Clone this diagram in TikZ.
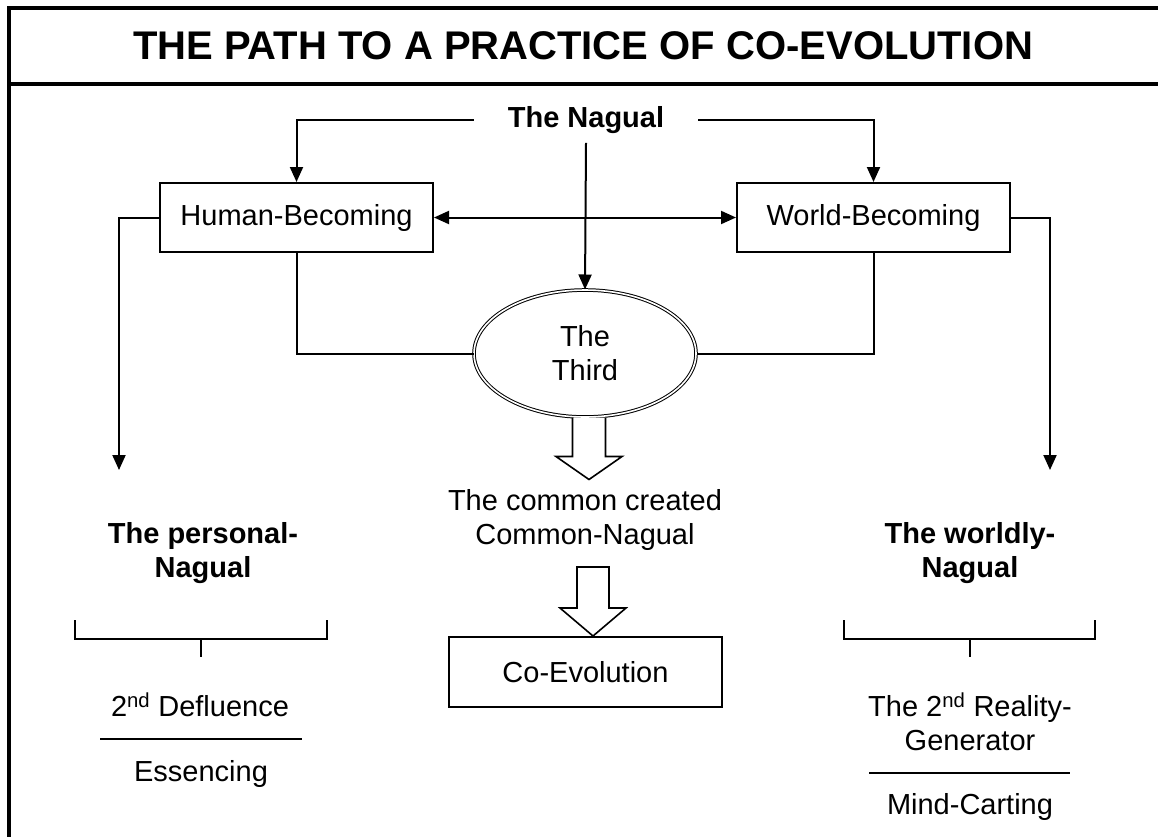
\documentclass[tikz,border=0pt]{standalone}
\usepackage{fontspec}
\setmainfont{Liberation Sans}
\usetikzlibrary{arrows.meta,shapes.geometric,calc}

\begin{document}
\begin{tikzpicture}[x=1pt,y=-1pt,>={Triangle[length=15pt,width=13pt]}]
	\tikzset{every node/.style={font=\fontsize{29}{34}\selectfont,align=center,inner sep=0pt}}
	\tikzset{boxnode/.style={draw,line width=2pt,minimum width=273pt,minimum height=69pt}}
	\tikzset{heading/.style={font=\fontsize{29}{34}\selectfont\bfseries}}
	\tikzset{conn/.style={line width=2pt,->}}
	\tikzset{bar/.style={line width=2pt}}
	\tikzset{hollow/.style={line width=1.6pt,fill=white,line join=miter}}
	\tikzset{frameline/.style={line width=4pt}}

	\useasboundingbox (0,0) rectangle (1158,836);
	\draw[frameline] (9,838) -- (9,8) -- (1160,8);
	\draw[frameline] (9,84) -- (1160,84);

	\node[font=\fontsize{40}{46}\selectfont\bfseries] (title) at (583,46) {THE PATH TO A PRACTICE OF CO-EVOLUTION};

	\node[heading,inner xsep=34pt,inner ysep=9pt] (nagual) at (586,120) {The Nagual};
	\node[boxnode] (human) at (296.5,217.5) {Human-Becoming};
	\node[boxnode] (world) at (873.5,217.5) {World-Becoming};
	\node[ellipse,draw,double,double distance=1.6pt,line width=1pt,minimum width=222pt,minimum height=127pt] (third) at (585,353.5) {The\\Third};
	\node (common) at (585,520) {The common created\\Common-Nagual};
	\node[boxnode,minimum height=70pt] (coevo) at (585.5,672) {Co-Evolution};

	\node[heading] (personal) at (203,553) {The personal-\\Nagual};
	\node[heading] (worldly) at (970,553) {The worldly-\\Nagual};
	\node (defl) at (200,705) {2\textsuperscript{nd} Defluence};
	\node (essence) at (201,774) {Essencing};
	\node (reality) at (970,722) {The 2\textsuperscript{nd} Reality-\\Generator};
	\node (mind) at (970,807) {Mind-Carting};

	\coordinate (pend) at (119,470);
	\coordinate (wend) at (1050,470);

	% arrows
	\draw[conn] (nagual.west) -| (human.north);
	\draw[conn] (nagual.east) -| (world.north);
	\draw[conn] (nagual.south) -- (third.north);
	\draw[conn,<->] (human.east) -- (world.west);
	\draw[conn] (human.west) -| (pend);
	\draw[conn] (world.east) -| (wend);
	\draw[bar] (human.south) |- (third.west);
	\draw[bar] (world.south) |- (third.east);

	\draw[hollow] ($(third.south)+(-12.5,0)$) -- ++(0,39) -- ++(-16.5,0) -- ++(33,23) -- ++(33,-23) -- ++(-16.5,0) -- ++(0,-39);
	\draw[hollow] ($(coevo.north)+(7.5,0)$) -- ++(-33,-28) -- ++(17,0) -- ++(0,-41) -- ++(32,0) -- ++(0,41) -- ++(17,0) -- cycle;

	% brackets
	\draw[bar] (75,620) |- (327,639) -- (327,620);
	\draw[bar] (201,639) -- (201,657);
	\draw[bar] (844,620) |- (1095,639) -- (1095,620);
	\draw[bar] (970,639) -- (970,657);
	\draw[bar] (100,739) -- (302,739);
	\draw[bar] (869,773) -- (1070,773);
\end{tikzpicture}
\end{document}
